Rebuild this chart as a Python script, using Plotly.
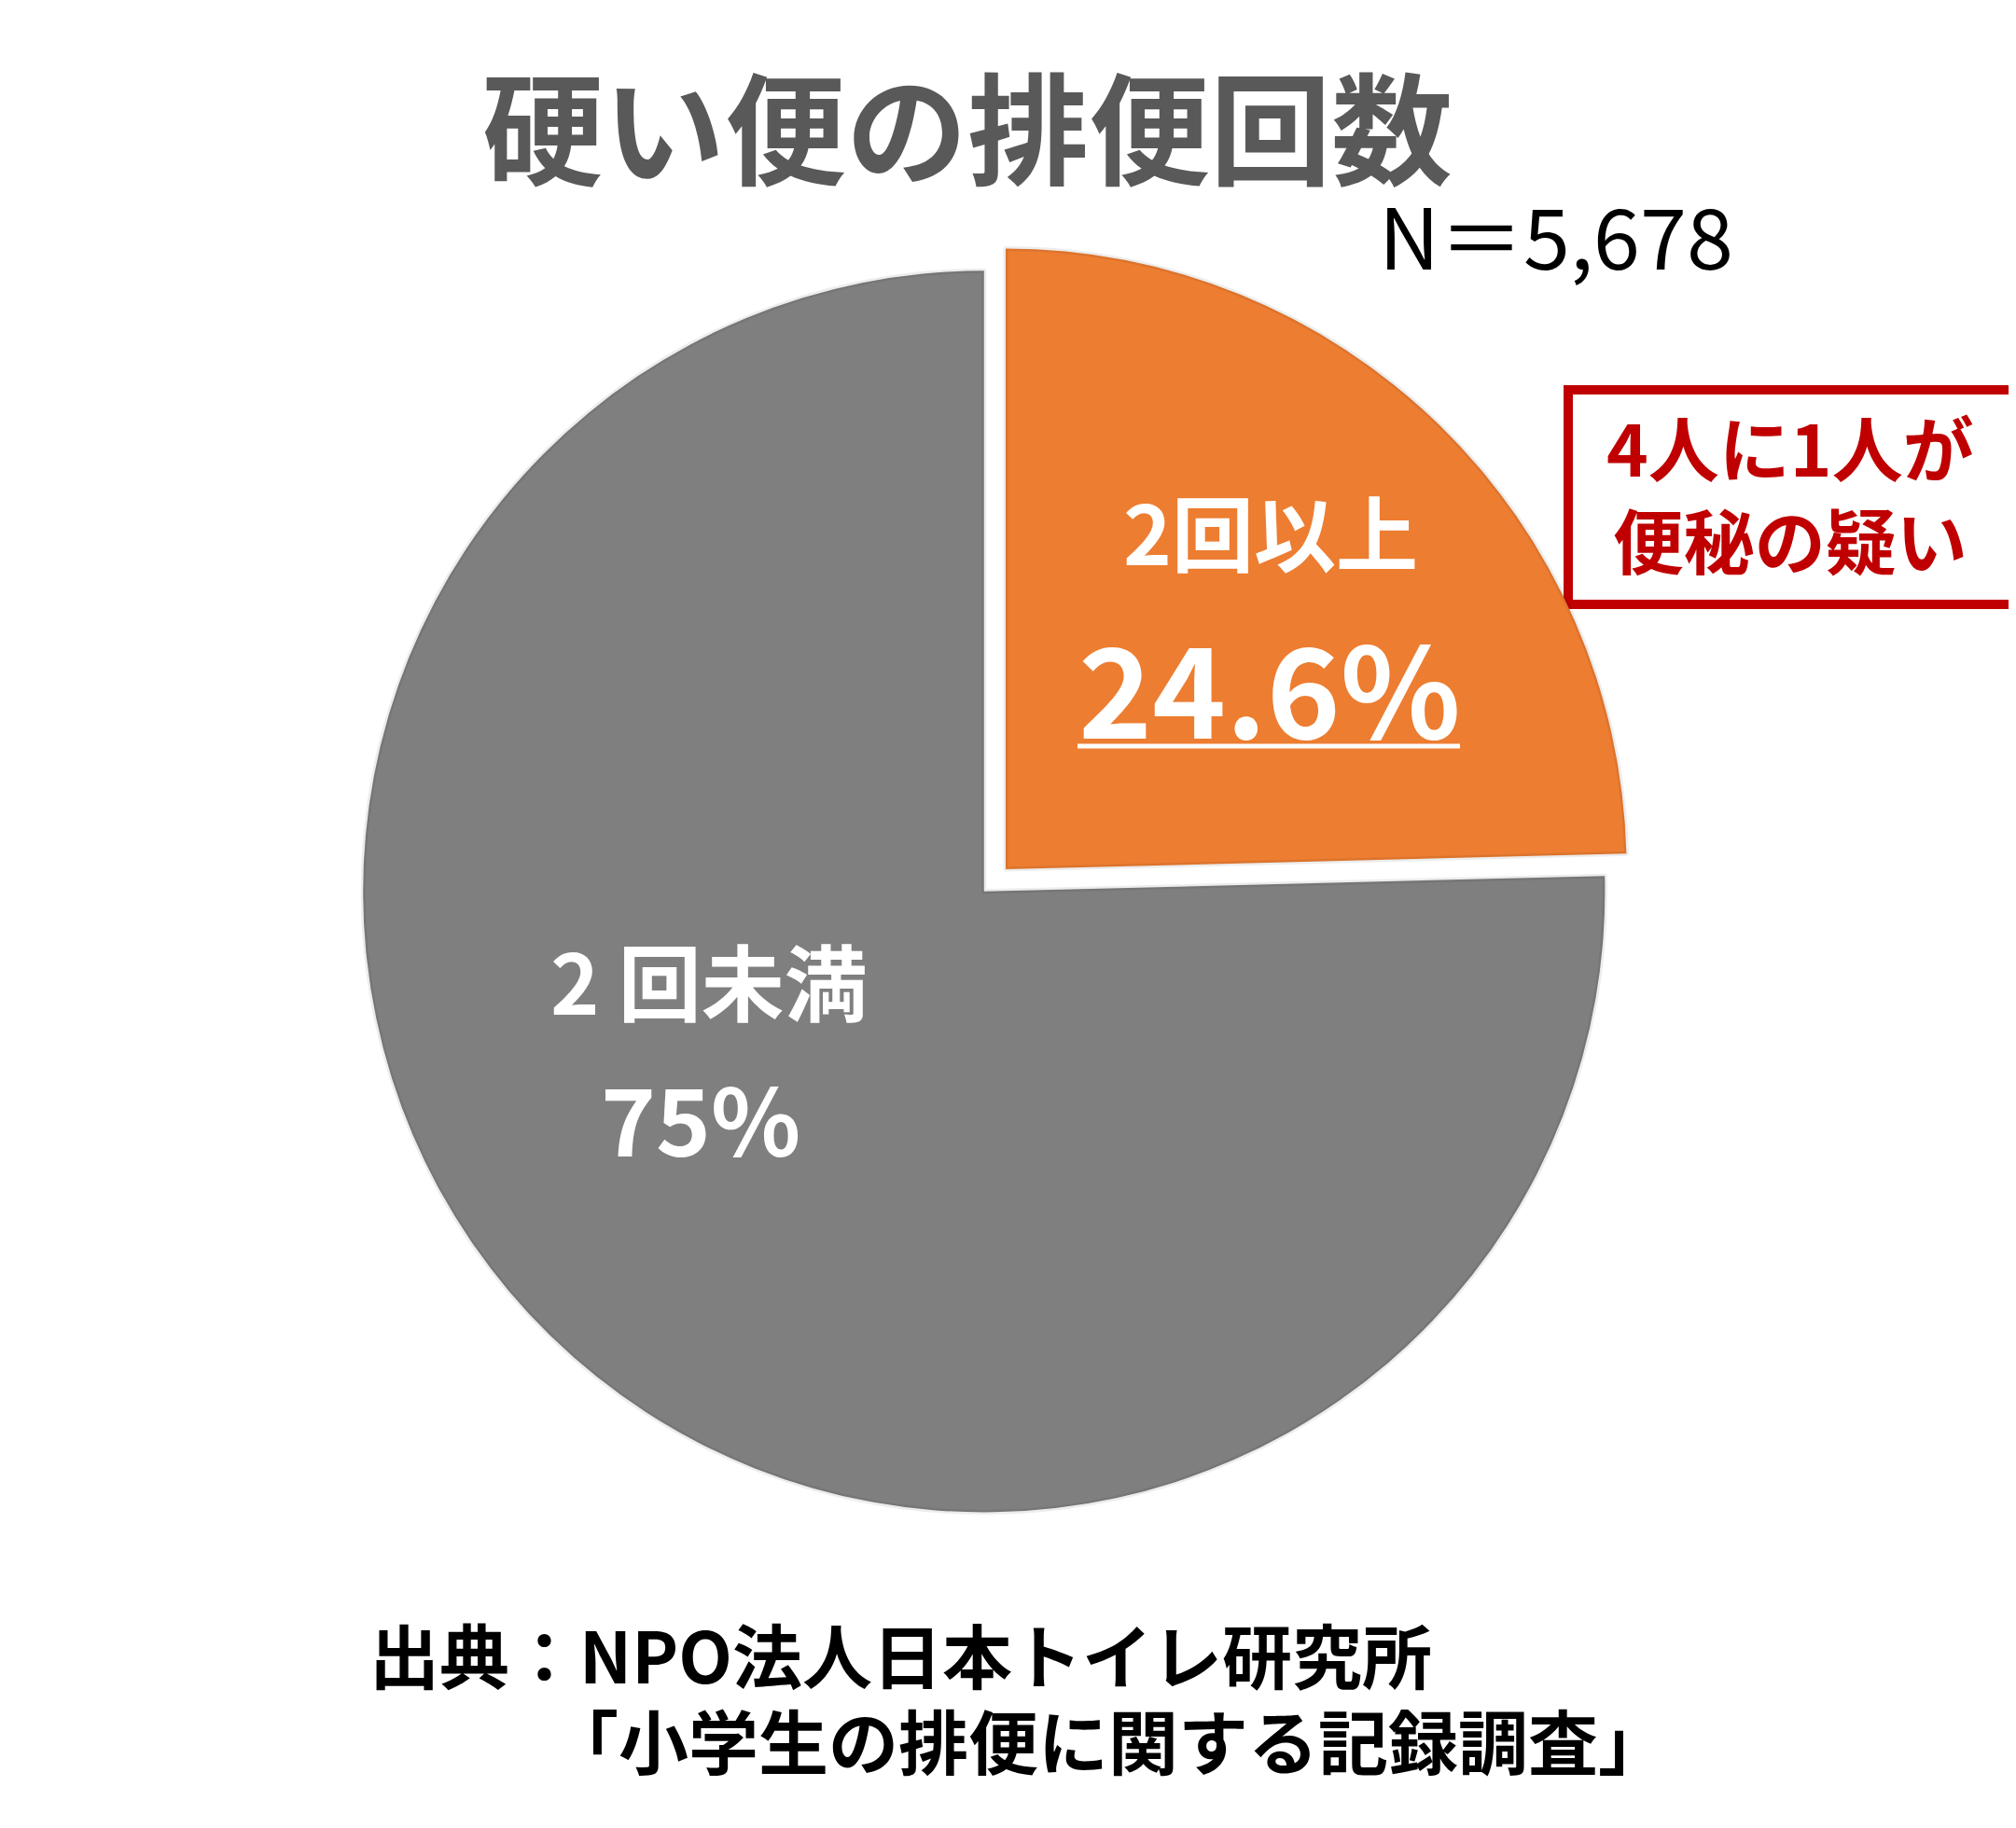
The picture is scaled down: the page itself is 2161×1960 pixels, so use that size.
import plotly.graph_objects as go

labels = ["2回以上", "2回未満"]
values = [24.6, 75.4]
label_texts = ["24.6%", "75%"]
colors = ["#ED7D31", "#7F7F7F"]
pulls = [0.05, 0]

title_text = "硬い便の排便回数"
n_text = "N＝5,678"
callout_lines = ["4人に1人が", "便秘の疑い"]
source_lines = ["出典：NPO法人日本トイレ研究所", "「小学生の排便に関する記録調査」"]

W, H = 2161, 1960
FONT = "Noto Sans CJK JP"

def px(x):
    return x / W

def py(y):
    return 1 - y / H

fig = go.Figure()
fig.add_trace(go.Pie(
    labels=labels,
    values=values,
    sort=False,
    direction="clockwise",
    rotation=0,
    pull=pulls,
    marker=dict(colors=colors, line=dict(color="rgba(0,0,0,0.07)", width=5)),
    textinfo="none",
    hoverinfo="label+value",
    showlegend=False,
    domain=dict(x=[0.1610, 0.8078], y=[0.1598, 0.8730]),
))

ann = []
ann.append(dict(x=px(1029), y=py(123), text="<b>" + title_text + "</b>",
                font=dict(family=FONT, size=130, color="#595959")))
ann.append(dict(x=px(1660), y=py(242), text=n_text,
                font=dict(family=FONT, size=90, color="#000000")))
ann.append(dict(x=px(1354), y=py(559), text="<b>" + labels[0] + "</b>",
                font=dict(family=FONT, size=88, color="#FFFFFF")))
ann.append(dict(x=px(1353), y=py(726), text="<b>" + label_texts[0] + "</b>",
                font=dict(family=FONT, size=134, color="#FFFFFF")))
ann.append(dict(x=px(752), y=py(1041), text="<b>" + labels[1].replace("2", "2 ") + "</b>",
                font=dict(family=FONT, size=89, color="#FFFFFF")))
ann.append(dict(x=px(743), y=py(1188), text="<b>" + label_texts[1] + "</b>",
                font=dict(family=FONT, size=100, color="#FFFFFF")))
ann.append(dict(x=px(1911), y=py(519), text="<b>" + "<br>".join(callout_lines) + "</b>",
                font=dict(family=FONT, size=76, color="#C00000")))
ann.append(dict(x=px(386), y=py(1764), text="<b>" + source_lines[0] + "</b>", xanchor="left",
                font=dict(family=FONT, size=75, color="#000000")))
ann.append(dict(x=px(578), y=py(1856), text="<b>" + source_lines[1] + "</b>", xanchor="left",
                font=dict(family=FONT, size=75, color="#000000")))
for a in ann:
    a.setdefault("xanchor", "center")
    a.update(xref="paper", yref="paper", yanchor="middle", showarrow=False)

shapes = [
    dict(type="rect", xref="paper", yref="paper", x0=px(1673), x1=px(2156), y0=py(410), y1=py(640),
         line=dict(color="#C00000", width=10), fillcolor="#FFFFFF", layer="below"),
    dict(type="line", xref="paper", yref="paper", x0=px(1147), x1=px(1557), y0=py(792), y1=py(792),
         line=dict(color="#FFFFFF", width=5)),
]

fig.update_layout(
    width=W, height=H,
    margin=dict(l=0, r=0, t=0, b=0),
    paper_bgcolor="#FFFFFF",
    plot_bgcolor="#FFFFFF",
    annotations=ann,
    shapes=shapes,
)

fig.write_html("out.html")
